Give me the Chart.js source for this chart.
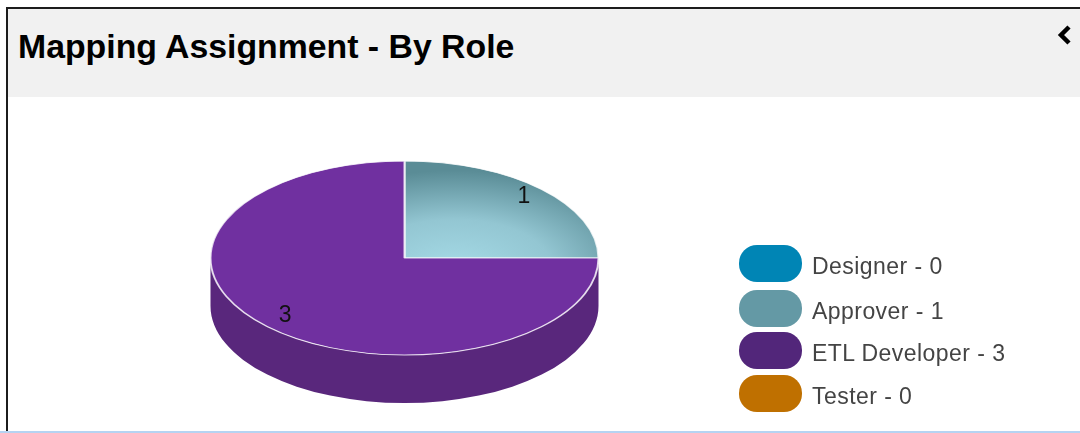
<!DOCTYPE html>
<html>
<head>
<meta charset="utf-8">
<title>Mapping Assignment - By Role</title>
<script src="https://cdn.jsdelivr.net/npm/chart.js@4"></script>
<style>
  html, body { margin: 0; padding: 0; background: #fff; overflow: hidden; }
  #page { position: relative; width: 1080px; height: 433px; overflow: hidden; font-family: "Liberation Sans", Arial, sans-serif; }
  #frame { position: absolute; left: 6px; top: 7px; width: 1074px; height: 424px; border-top: 2px solid #1c1c1c; border-left: 2px solid #1c1c1c; box-sizing: border-box; }
  #head { position: absolute; left: 8px; top: 9px; width: 1072px; height: 88px; background: #f1f1f1; }
  #head h1 { position: absolute; left: 10px; top: 18px; margin: 0; font-size: 33.8px; line-height: 38px; font-weight: bold; color: #000; white-space: nowrap; }
  #toggle { position: absolute; left: 1049px; top: 15px; }
  #rule { position: absolute; left: 0; top: 431px; width: 1080px; height: 2px; background: #b5d3f2; }
  #pie { position: absolute; left: 0; top: 0; }
  .row { position: absolute; left: 739px; height: 37px; }
  .row i { position: absolute; left: 0; top: 0; width: 63px; height: 37px; border-radius: 18px; }
  .row span { position: absolute; left: 73px; top: 8px; font-size: 23px; line-height: 26px; letter-spacing: 0.45px; color: #444; white-space: nowrap; }
  .row:nth-child(1) { top: 245px; }
  .row:nth-child(2) { top: 290px; }
  .row:nth-child(3) { top: 332px; }
  .row:nth-child(4) { top: 375px; }
</style>
</head>
<body>
<div id="page">
  <div id="head">
    <h1>Mapping Assignment - By Role</h1>
    <svg id="toggle" width="16" height="24" viewBox="0 0 16 24"><path d="M12 3 L4 11 L12 19" fill="none" stroke="#000" stroke-width="4.5"/></svg>
  </div>
  <div id="frame"></div>
  <canvas id="pie" width="1080" height="433"></canvas>
  <div id="legend"></div>
  <div id="rule"></div>
</div>
<script>
const roles = ['Designer', 'Approver', 'ETL Developer', 'Tester'];
const counts = [0, 1, 3, 0];
const legendColors = ['#0085b5', '#6499a5', '#52267a', '#bf7000'];
const topColors = ['#0085b5', '#6499a5', '#7030a0', '#bf7000'];
const sideColors = ['#006a90', '#4f7a84', '#59277c', '#985900'];

//Legend
const legend = document.getElementById('legend');
roles.forEach((role, i) => {
  const row = document.createElement('div');
  row.className = 'row';
  row.innerHTML = `<i style="background:${legendColors[i]}"></i><span>${role} - ${counts[i]}</span>`;
  legend.appendChild(row);
});

//Tilt of the pie
const tilt = 0.5;
const depth = 48;
const centerY = 258;

//Squash the pie into an ellipse and draw the rim under it
const tiltPlugin = {
  id: 'tilt',
  beforeDatasetsDraw(chart) {
    const ctx = chart.ctx;
    const arcs = chart.getDatasetMeta(0).data;
    const cx = arcs[0].x;
    const rx = arcs[0].outerRadius;
    const ry = rx * tilt;
    ctx.save();
    arcs.forEach((arc, i) => {
      const from = Math.max(arc.startAngle, 0);
      const to = Math.min(arc.endAngle, Math.PI);
      if (counts[i] === 0 || to <= from) return;
      ctx.beginPath();
      ctx.ellipse(cx, centerY, rx, ry, 0, from, to);
      ctx.ellipse(cx, centerY + depth, rx, ry, 0, to, from, true);
      ctx.closePath();
      ctx.fillStyle = sideColors[i];
      ctx.fill();
    });
    ctx.restore();
    ctx.save();
    ctx.translate(cx, centerY);
    ctx.scale(1, tilt);
    ctx.translate(-cx, -arcs[0].y);
  },
  afterDatasetsDraw(chart) {
    const ctx = chart.ctx;
    ctx.restore();
    const arcs = chart.getDatasetMeta(0).data;
    ctx.save();
    ctx.font = '23px "Liberation Sans", Arial, sans-serif';
    ctx.fillStyle = '#111';
    ctx.textAlign = 'center';
    ctx.textBaseline = 'middle';
    arcs.forEach((arc, i) => {
      if (counts[i] === 0) return;
      const mid = (arc.startAngle + arc.endAngle) / 2;
      const r = arc.outerRadius * 0.87;
      ctx.fillText(counts[i], arc.x + Math.cos(mid) * r, centerY + Math.sin(mid) * r * tilt - 2);
    });
    ctx.restore();
  }
};

//Approver slice has a shaded top
function sliceColor(context) {
  const i = context.dataIndex;
  const area = context.chart.chartArea;
  if (i !== 1 || !area) return topColors[i];
  const x = (area.left + area.right) / 2 + 50;
  const y = (area.top + area.bottom) / 2 + 20;
  const g = context.chart.ctx.createRadialGradient(x, y, 0, x, y, (area.bottom - area.top) / 2);
  g.addColorStop(0, '#a5dae6');
  g.addColorStop(0.5, '#93c6d2');
  g.addColorStop(1, '#5a8c96');
  return g;
}

const pieChart = new Chart(document.getElementById('pie').getContext('2d'), {
  type: 'pie',
  data: {
    labels: roles,
    datasets: [{
      data: counts,
      backgroundColor: sliceColor,
      borderColor: 'rgba(255,255,255,0.8)',
      borderWidth: 2
    }]
  },
  options: {
    responsive: false,
    animation: false,
    events: [],
    layout: { padding: { left: 209, right: 480, top: 21, bottom: 22 } },
    plugins: {
      legend: { display: false },
      tooltip: { enabled: false }
    }
  },
  plugins: [tiltPlugin]
});
</script>
</body>
</html>
